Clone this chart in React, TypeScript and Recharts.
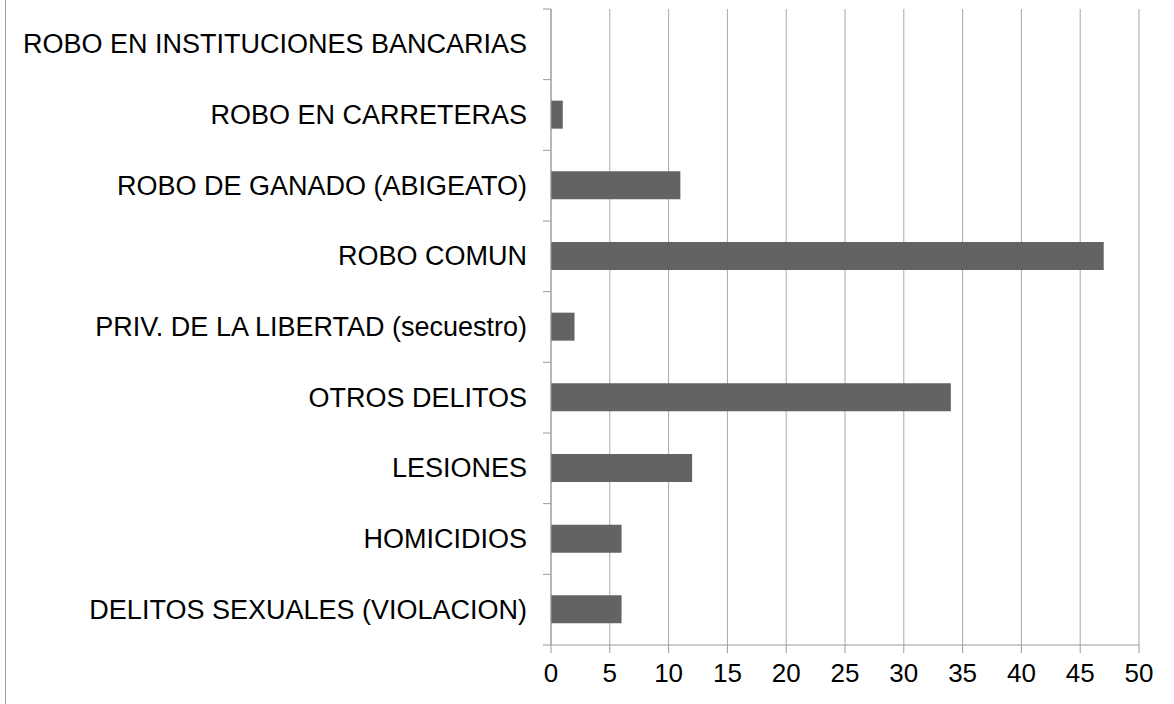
import { BarChart, Bar, XAxis, YAxis, CartesianGrid } from 'recharts'

const categories = [
  'ROBO EN INSTITUCIONES BANCARIAS',
  'ROBO EN CARRETERAS',
  'ROBO DE GANADO (ABIGEATO)',
  'ROBO COMUN',
  'PRIV. DE LA LIBERTAD (secuestro)',
  'OTROS DELITOS',
  'LESIONES',
  'HOMICIDIOS',
  'DELITOS SEXUALES (VIOLACION)',
]
const casos = [0, 1, 11, 47, 2, 34, 12, 6, 6]
const xTicks = [0, 5, 10, 15, 20, 25, 30, 35, 40, 45, 50]

const data = categories.map((name, i) => ({ name, value: casos[i] }))

const WIDTH = 1174
const HEIGHT = 704
const MARGIN_TOP = 9
const X_AXIS_HEIGHT = 59
const Y_AXIS_WIDTH = 551
const band = (HEIGHT - MARGIN_TOP - X_AXIS_HEIGHT) / categories.length

const axisColor = '#9a9a9a'
const gridColor = '#a8a8a8'
const font = '"Liberation Sans", Arial, sans-serif'

// labels + tick marks between categories (Excel style)
function CategoryTick(props: any) {
  const { y, payload, index } = props
  const x = Y_AXIS_WIDTH
  const last = index === categories.length - 1
  return (
    <g>
      <line x1={x - 8} x2={x} y1={y - band / 2} y2={y - band / 2} stroke={axisColor} />
      {last && <line x1={x - 8} x2={x} y1={y + band / 2} y2={y + band / 2} stroke={axisColor} />}
      <text
        x={x - 24}
        y={y}
        textAnchor="end"
        dominantBaseline="central"
        fontSize={27}
        fontFamily={font}
        fill="#000"
      >
        {payload.value}
      </text>
    </g>
  )
}

export default function App() {
  return (
    <div style={{ position: 'absolute', left: 0, top: 0, width: WIDTH, height: HEIGHT, background: '#fff' }}>
      <div style={{ position: 'absolute', left: 5, top: 0, width: 1, height: HEIGHT, background: '#a0a0a0' }} />
      <BarChart
        width={WIDTH}
        height={HEIGHT}
        data={data}
        layout="vertical"
        margin={{ top: MARGIN_TOP, right: 35, bottom: 0, left: 0 }}
      >
        <CartesianGrid horizontal={false} stroke={gridColor} />
        <XAxis
          type="number"
          domain={[0, 50]}
          ticks={xTicks}
          interval={0}
          height={X_AXIS_HEIGHT}
          tickSize={8}
          tickMargin={11}
          axisLine={{ stroke: axisColor }}
          tickLine={{ stroke: axisColor }}
          tick={{ fontSize: 26, fill: '#000', fontFamily: font }}
        />
        <YAxis
          type="category"
          dataKey="name"
          width={Y_AXIS_WIDTH}
          interval={0}
          tickSize={0}
          tickMargin={0}
          tickLine={false}
          axisLine={{ stroke: axisColor }}
          tick={<CategoryTick />}
        />
        <Bar dataKey="value" fill="#636363" barSize={28} isAnimationActive={false} />
      </BarChart>
    </div>
  )
}
